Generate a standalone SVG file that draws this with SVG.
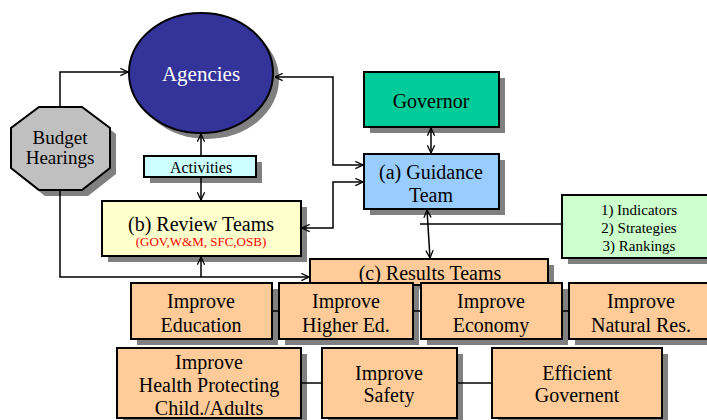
<svg xmlns="http://www.w3.org/2000/svg" width="707" height="420" viewBox="0 0 707 420">
<defs>
<marker id="ar" viewBox="0 0 10 10" refX="9.5" refY="5" markerWidth="9" markerHeight="9" orient="auto-start-reverse" markerUnits="userSpaceOnUse">
<path d="M1,1 L9.5,5 L1,9" fill="none" stroke="#000" stroke-width="1.4"/>
</marker>
</defs>
<style>
.sh{fill:#808080;stroke:none}
.bx{stroke:#000;stroke-width:2}
.or{fill:#ffcc99}
.ln{fill:none;stroke:#000;stroke-width:1.5}
</style>
<rect width="707" height="420" fill="#fff"/>
<g id="agencies">
<ellipse class="sh" cx="207" cy="79" rx="72" ry="60"/>
<ellipse class="bx" cx="201" cy="73" rx="72" ry="60" fill="#333399"/>
<text font-family="Liberation Serif" text-anchor="middle" x="201" y="81" font-size="21" fill="#ffffff">Agencies</text>
</g>
<g id="budget">
<polygon class="sh" points="45,113 88,113 116,134 116,174 88,196 45,196 17,174 17,134"/>
<polygon class="bx" points="39,107 82,107 110,128 110,168 82,190 39,190 11,168 11,128" fill="#c0c0c0"/>
<text font-family="Liberation Serif" text-anchor="middle" x="60" y="144" font-size="19">Budget</text>
<text font-family="Liberation Serif" text-anchor="middle" x="60" y="164" font-size="19">Hearings</text>
</g>
<g id="activities">
<rect class="sh" x="150" y="162" width="112" height="21"/>
<rect class="bx" x="144" y="156" width="112" height="21" fill="#ccffff"/>
<text font-family="Liberation Serif" text-anchor="middle" x="201" y="173" font-size="16">Activities</text>
</g>
<g id="review">
<rect class="sh" x="108" y="207" width="199" height="55"/>
<rect class="bx" x="102" y="201" width="199" height="55" fill="#ffffcc"/>
<text font-family="Liberation Serif" text-anchor="middle" x="201" y="231" font-size="20">(b) Review Teams</text>
<text font-family="Liberation Serif" text-anchor="middle" x="201" y="246" font-size="13" fill="#ff0000">(GOV,W&amp;M, SFC,OSB)</text>
</g>
<g id="governor">
<rect class="sh" x="370" y="78" width="135" height="55"/>
<rect class="bx" x="364" y="72" width="135" height="55" fill="#00cc99"/>
<text font-family="Liberation Serif" text-anchor="middle" x="431" y="108" font-size="20">Governor</text>
</g>
<g id="guidance">
<rect class="sh" x="370" y="160" width="135" height="55"/>
<rect class="bx" x="364" y="154" width="135" height="55" fill="#99ccff"/>
<text font-family="Liberation Serif" text-anchor="middle" x="431" y="179" font-size="20">(a) Guidance</text>
<text font-family="Liberation Serif" text-anchor="middle" x="431" y="202" font-size="20">Team</text>
</g>
<g id="outputs">
<rect class="sh" x="568" y="201" width="145" height="63"/>
<rect class="bx" x="562" y="195" width="150" height="63" fill="#ccffcc"/>
<text font-family="Liberation Serif" text-anchor="middle" x="639" y="215" font-size="15">1) Indicators</text>
<text font-family="Liberation Serif" text-anchor="middle" x="639" y="233" font-size="15">2) Strategies</text>
<text font-family="Liberation Serif" text-anchor="middle" x="639" y="251" font-size="15">3) Rankings</text>
</g>
<g id="results">
<rect class="sh" x="316" y="265" width="238" height="24"/>
<rect class="bx or" x="310" y="259" width="238" height="26"/>
<text font-family="Liberation Serif" text-anchor="middle" x="430" y="280" font-size="20">(c) Results Teams</text>
</g>
<g id="education">
<rect class="sh" x="137" y="289" width="141" height="56"/>
<rect class="bx or" x="131" y="283" width="141" height="56"/>
<text font-family="Liberation Serif" text-anchor="middle" x="201" y="308" font-size="20">Improve</text>
<text font-family="Liberation Serif" text-anchor="middle" x="201" y="332" font-size="20">Education</text>
</g>
<g id="highered">
<rect class="sh" x="285" y="289" width="134" height="56"/>
<rect class="bx or" x="279" y="283" width="134" height="56"/>
<text font-family="Liberation Serif" text-anchor="middle" x="346" y="308" font-size="20">Improve</text>
<text font-family="Liberation Serif" text-anchor="middle" x="346" y="332" font-size="20">Higher Ed.</text>
</g>
<g id="economy">
<rect class="sh" x="427" y="289" width="141" height="56"/>
<rect class="bx or" x="421" y="283" width="141" height="56"/>
<text font-family="Liberation Serif" text-anchor="middle" x="491" y="308" font-size="20">Improve</text>
<text font-family="Liberation Serif" text-anchor="middle" x="491" y="332" font-size="20">Economy</text>
</g>
<g id="natural">
<rect class="sh" x="575" y="289" width="140" height="56"/>
<rect class="bx or" x="569" y="283" width="145" height="56"/>
<text font-family="Liberation Serif" text-anchor="middle" x="641" y="308" font-size="20">Improve</text>
<text font-family="Liberation Serif" text-anchor="middle" x="641" y="332" font-size="20">Natural Res.</text>
</g>
<g id="health">
<rect class="sh" x="123" y="354" width="184" height="70"/>
<rect class="bx or" x="117" y="348" width="184" height="70"/>
<text font-family="Liberation Serif" text-anchor="middle" x="209" y="369" font-size="20">Improve</text>
<text font-family="Liberation Serif" text-anchor="middle" x="209" y="392" font-size="20">Health Protecting</text>
<text font-family="Liberation Serif" text-anchor="middle" x="209" y="415" font-size="20">Child./Adults</text>
</g>
<g id="safety">
<rect class="sh" x="328" y="354" width="135" height="70"/>
<rect class="bx or" x="322" y="348" width="135" height="70"/>
<text font-family="Liberation Serif" text-anchor="middle" x="389" y="380" font-size="20">Improve</text>
<text font-family="Liberation Serif" text-anchor="middle" x="389" y="402" font-size="20">Safety</text>
</g>
<g id="efficient">
<rect class="sh" x="498" y="354" width="170" height="70"/>
<rect class="bx or" x="492" y="348" width="170" height="70"/>
<text font-family="Liberation Serif" text-anchor="middle" x="577" y="380" font-size="20">Efficient</text>
<text font-family="Liberation Serif" text-anchor="middle" x="577" y="402" font-size="20">Governent</text>
</g>
<g id="connectors">
<polyline class="ln" points="60,107 60,72 128,72" marker-end="url(#ar)"/>
<polyline class="ln" points="60,190 60,277 309,277" marker-end="url(#ar)"/>
<line class="ln" x1="201" y1="277" x2="201" y2="257" marker-end="url(#ar)"/>
<line class="ln" x1="201" y1="156" x2="201" y2="134" marker-end="url(#ar)"/>
<line class="ln" x1="201" y1="177" x2="201" y2="200" marker-end="url(#ar)"/>
<polyline class="ln" points="275,77 333,77 333,165 363,165" marker-start="url(#ar)" marker-end="url(#ar)"/>
<polyline class="ln" points="302,228 333,228 333,182 363,182" marker-start="url(#ar)" marker-end="url(#ar)"/>
<line class="ln" x1="431" y1="128" x2="431" y2="153" marker-start="url(#ar)" marker-end="url(#ar)"/>
<line class="ln" x1="427" y1="210" x2="430" y2="258" marker-start="url(#ar)" marker-end="url(#ar)"/>
<line class="ln" x1="420" y1="224" x2="562" y2="224"/>
<line class="ln" x1="272" y1="311" x2="279" y2="311"/>
<line class="ln" x1="413" y1="311" x2="421" y2="311"/>
<line class="ln" x1="562" y1="311" x2="569" y2="311"/>
<line class="ln" x1="301" y1="383" x2="322" y2="383"/>
<line class="ln" x1="457" y1="383" x2="492" y2="383"/>
</g>
</svg>
